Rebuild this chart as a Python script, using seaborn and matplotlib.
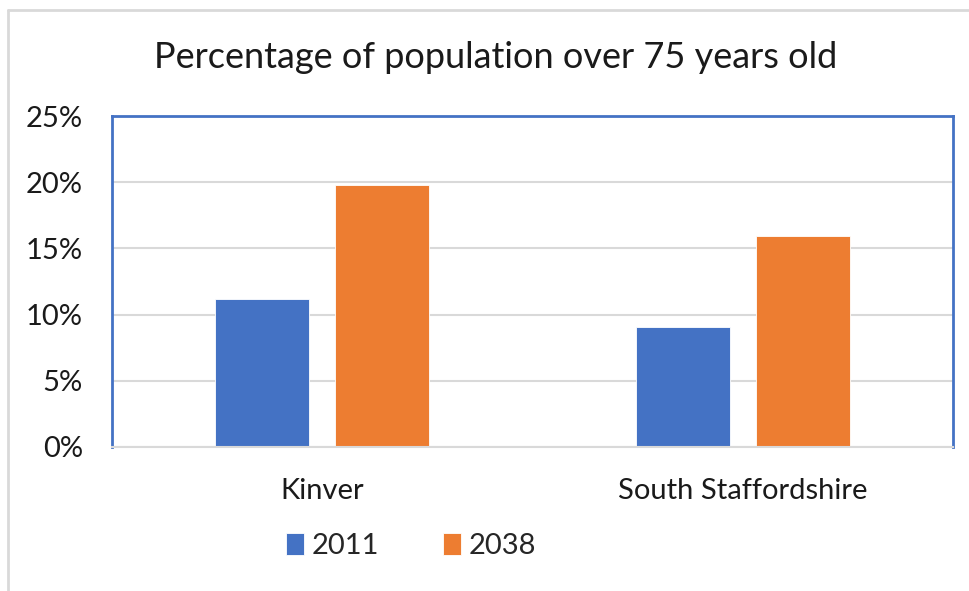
import matplotlib
matplotlib.use("Agg")
import matplotlib.pyplot as plt
from matplotlib.lines import Line2D
from matplotlib.ticker import PercentFormatter
import pandas as pd
import seaborn as sns

# dados
areas = ["Kinver", "South Staffordshire"]
anos = ["2011", "2038"]
valores_2011 = [11.2, 9.1]
valores_2038 = [19.8, 15.9]
ticks_y = [0, 5, 10, 15, 20, 25]

cores = {"2011": "#4472C4", "2038": "#ED7D31"}

base_dados = pd.DataFrame({
    "Area": areas * 2,
    "Ano": ["2011"] * len(areas) + ["2038"] * len(areas),
    "Valor": valores_2011 + valores_2038,
})

sns.set_style("white")
plt.rcParams["font.family"] = ["Lato", "DejaVu Sans"]

fig = plt.figure(figsize=(9.7, 5.91), dpi=100)
ax = fig.add_axes([0.1155, 0.2437, 0.867, 0.56])

sns.barplot(data=base_dados, x="Area", y="Valor", hue="Ano", hue_order=anos,
            palette=cores, width=0.57, gap=0.217, saturation=1,
            edgecolor="white", linewidth=0.6, ax=ax)

ax.set_xlim(-0.5, 1.5)
ax.set_ylim(0, 25)
ax.set_yticks(ticks_y)
ax.yaxis.set_major_formatter(PercentFormatter(decimals=0))
ax.grid(axis="y", color="#d9d9d9", linewidth=1.5)
ax.set_axisbelow(True)
ax.set_xlabel("")
ax.set_ylabel("")
ax.tick_params(axis="y", length=0, pad=21, labelsize=21, labelcolor="#1a1a1a")
ax.tick_params(axis="x", length=0, pad=22, labelsize=21, labelcolor="#1a1a1a")

# moldura azul em cima e dos lados, eixo de baixo cinza
for lado in ["top", "left", "right"]:
    ax.spines[lado].set_visible(True)
    ax.spines[lado].set_color("#4472C4")
    ax.spines[lado].set_linewidth(2)
ax.spines["bottom"].set_color("#d9d9d9")
ax.spines["bottom"].set_linewidth(1.5)

fig.text(0.511, 0.903, "Percentage of population over 75 years old",
         ha="center", va="center", fontsize=26, color="#1a1a1a")

ax.legend(loc="center", bbox_to_anchor=(0.424, 0.076), bbox_transform=fig.transFigure,
          ncol=2, frameon=False, fontsize=21, handlelength=0.62, handleheight=0.75,
          handletextpad=0.25, columnspacing=2.2)

# borda cinza da área do gráfico
fig.add_artist(Line2D([0.0085, 1.0], [0.983, 0.983], color="#d9d9d9", linewidth=2,
                      transform=fig.transFigure))
fig.add_artist(Line2D([0.0085, 0.0085], [0.0, 0.983], color="#d9d9d9", linewidth=2,
                      transform=fig.transFigure))

fig.savefig("out.png", dpi=100)
